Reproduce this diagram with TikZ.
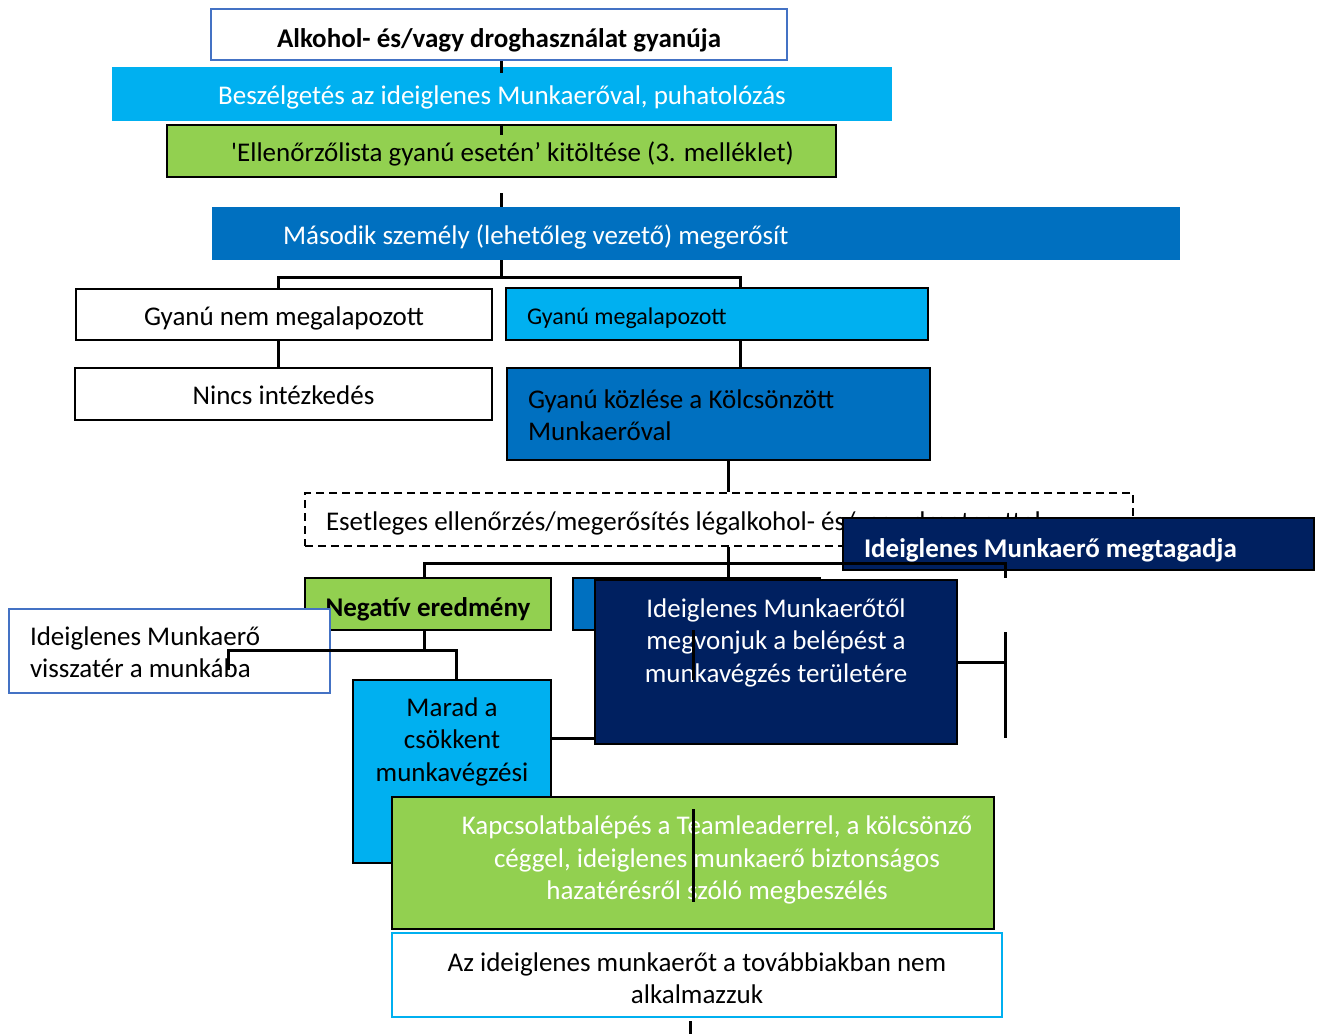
\documentclass[tikz,border=0pt]{standalone}
\usepackage{fontspec}
\setmainfont{Carlito}
\definecolor{lightblue}{RGB}{0,176,240}
\definecolor{midblue}{RGB}{0,112,192}
\definecolor{navy}{RGB}{0,32,96}
\definecolor{leafgreen}{RGB}{146,208,80}
\definecolor{frameblue}{RGB}{68,114,196}

\begin{document}
\begin{tikzpicture}[x=1pt,y=-1pt]

%
% Styles
%
\tikzstyle{box}   = [rectangle,inner sep=0pt,align=center,font=\fontsize{27}{32.5}\selectfont,
                     execute at begin node={\rule{0pt}{28pt}},execute at end node={\rule[-7pt]{0pt}{7pt}}]
\tikzstyle{bold}  = [box,font=\fontsize{27}{32.5}\selectfont\bfseries]
\tikzstyle{frame} = [draw=black,line width=2pt]
\tikzstyle{edge}  = [line width=3pt,draw=black]

\useasboundingbox[fill=white] (0,0) rectangle (1322,1033);

\node[bold,draw=frameblue,line width=2pt,minimum width=576pt,minimum height=51pt,
      execute at begin node={\rule{0pt}{34pt}}] (alk) at (499,34.5) {Alkohol- és/vagy droghasználat gyanúja};
\node[box,fill=lightblue,text=white,minimum width=780pt,minimum height=54pt] (besz) at (502,94) {Beszélgetés az ideiglenes Munkaerőval, puhatolózás};
\node[box,frame,fill=leafgreen,minimum width=669pt,minimum height=52pt] (ell) at (501.5,151) {\hspace*{22pt}\textquotesingle Ellenőrzőlista gyanú esetén’ kitöltése (3. melléklet)};
\node[box,fill=midblue,text=white,align=flush left,inner xsep=71pt,text width=826pt,minimum height=53pt] (mas) at (696,233.5) {Második személy (lehetőleg vezető) megerősít};

\node[box,frame,minimum width=416pt,minimum height=51pt] (nem) at (284,314.5) {Gyanú nem megalapozott};
\node[box,frame,fill=lightblue,align=flush left,inner xsep=21pt,text width=380pt,minimum height=52pt,font=\fontsize{24}{29}\selectfont,
      execute at begin node={\rule{0pt}{20pt}}] (megal) at (717,314) {Gyanú megalapozott};
\node[box,frame,minimum width=417pt,minimum height=52pt] (ninc) at (283.5,394) {Nincs intézkedés};
\node[box,frame,fill=midblue,align=flush left,inner xsep=21pt,text width=381pt,minimum height=92pt,
      execute at begin node={},execute at end node={}] (kozl) at (718.5,414) {Gyanú közlése a Kölcsönzött\\Munkaerőval};

\node[box,draw=black,line width=1.5pt,dash pattern=on 8pt off 5pt,align=flush left,inner xsep=21pt,text width=786pt,minimum height=53pt] (esetl) at (719,519.5) {Esetleges ellenőrzés/megerősítés légalkohol- és/vagy drogteszttel};
\node[bold,frame,fill=navy,text=white,align=flush left,inner xsep=21pt,text width=429pt,minimum height=52pt,
      execute at begin node={\rule{0pt}{33pt}}] (megtag) at (1078.5,544) {Ideiglenes Munkaerő megtagadja};

\node[bold,frame,fill=leafgreen,minimum width=246pt,minimum height=52pt,
      execute at begin node={\rule{0pt}{31pt}}] (neg) at (428,604) {Negatív eredmény};
\node[box,frame,fill=midblue,minimum width=247pt,minimum height=52pt] (kek) at (696.5,604) {};
\node[box,frame,fill=navy,minimum width=362pt,minimum height=164pt] (megv) at (776,662) {};
\node[box,text=white] (megvtxt) at (776,644) {Ideiglenes Munkaerőtől\\megvonjuk a belépést a\\munkavégzés területére};
\node[box,draw=frameblue,line width=2pt,fill=white,align=flush left,inner xsep=21pt,text width=279pt,minimum height=84pt] (vissza) at (169.5,651) {Ideiglenes Munkaerő\\visszatér a munkába};

\node[box,frame,fill=lightblue,minimum width=198pt,minimum height=183pt] (marad) at (452,771.5) {};
\node[box] (maradtxt) at (452,743) {Marad a\\csökkent\\munkavégzési};
\node[box,frame,fill=leafgreen,minimum width=602pt,minimum height=132pt] (kapcs) at (693,863) {};
\node[box,text=white] (kapcstxt) at (717,861.5) {Kapcsolatbalépés a Teamleaderrel, a kölcsönző\\céggel, ideiglenes munkaerő biztonságos\\hazatérésről szóló megbeszélés};
\node[box,draw=lightblue,line width=2pt,minimum width=610pt,minimum height=84pt] (nemalk) at (697,975) {};
\node[box] (nemalktxt) at (697,981.5) {Az ideiglenes munkaerőt a továbbiakban nem\\alkalmazzuk};

\coordinate (j1)  at (501,277);
\coordinate (j1l) at (278,277);
\coordinate (j1r) at (740,277);
\coordinate (j2)  at (728,563);
\coordinate (j2l) at (424,563);
\coordinate (j2r) at (1005,563);
\coordinate (j3)  at (424,650);
\coordinate (j3l) at (228,650);
\coordinate (j3r) at (456,650);
\coordinate (j4)  at (551,738);
\coordinate (j5)  at (693,630);
\coordinate (j6)  at (1005,662);
\coordinate (j6t) at (1005,632);
\coordinate (j6b) at (1005,738);

\draw[edge] (alk.south -| j1) -- ++(0,12);
\draw[edge] (ell.north -| j1) -- ++(0,11);
\draw[edge] (mas.north -| j1) -- ++(0,-14);
\draw[edge] (mas.south -| j1) -- (j1);
\draw[edge] (nem.north -| j1l) -- (j1l) -- (j1r) -- (megal.north -| j1r);
\draw[edge] (nem.south -| j1l) -- (ninc.north -| j1l);
\draw[edge] (megal.south -| j1r) -- (kozl.north -| j1r);
\draw[edge] (kozl.south -| j2) -- (esetl.north -| j2);
\draw[edge] (esetl.south -| j2) -- (j2);
\draw[edge] (neg.north -| j2l) -- (j2l) -- (j2r) -- ++(0,15);
\draw[edge] (j2) -- (kek.north -| j2);
\draw[edge] (neg.south -| j3) -- (j3);
\draw[edge] (j3l) ++(0,20) -- (j3l) -- (j3r) -- (marad.north -| j3r);
\draw[edge] (j4) -- (megv.west |- j4);
\draw[edge] (j5) -- ++(0,50);
\draw[edge] (megv.east |- j6) -- (j6);
\draw[edge] (j6t) -- (j6b);
\draw[edge] (kapcs.north -| j5) ++(0,13) -- ++(0,93);
\draw[edge] (nemalk.south) ++(-7,3) -- ++(0,13);

\end{tikzpicture}
\end{document}
